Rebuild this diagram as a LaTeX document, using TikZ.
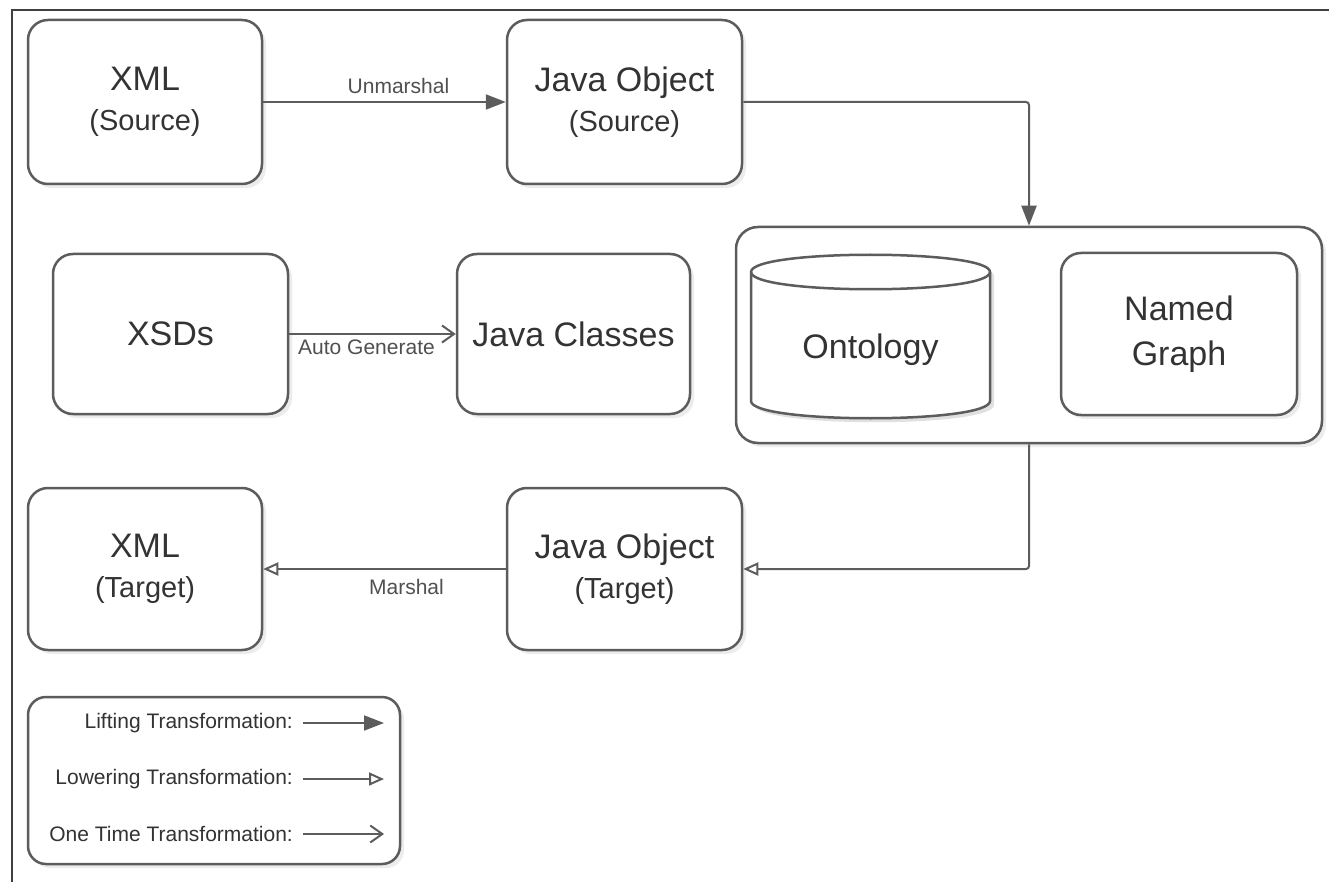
\documentclass[tikz,border=0pt]{standalone}
\usepackage{fontspec}
\setmainfont{Liberation Sans}
\usetikzlibrary{arrows.meta,shadows}
\definecolor{linec}{HTML}{5C5C5C}
\definecolor{txt}{HTML}{333333}
\definecolor{lbltxt}{HTML}{505050}
\newcommand\boxsubtext[1]{{\fontsize{29}{40}\selectfont #1}}
\tikzset{
  box/.style={draw=linec, line width=2.5pt, rounded corners=20pt, fill=white,
    text=txt, align=center, inner sep=0pt,
    font=\fontsize{34}{40}\selectfont,
    drop shadow={opacity=0.15, shadow xshift=4pt, shadow yshift=-4pt}},
  liftarr/.style={draw=linec, line width=2pt, -{Triangle[length=20pt,width=15pt]}},
  lowerarr/.style={draw=linec, line width=2pt, -{Triangle[open,length=15pt,width=13pt,fill=white]}},
  oncearr/.style={draw=linec, line width=2pt, -{Straight Barb[length=12pt,width=17pt]}},
  lbl/.style={text=lbltxt, font=\fontsize{21}{24}\selectfont, inner sep=1pt},
  legtxt/.style={text=txt, font=\fontsize{21}{24}\selectfont, anchor=east, inner sep=0pt},
  frame/.style={draw=black!75, line width=2.5pt}
}
\begin{document}
\begin{tikzpicture}[x=1pt,y=-1pt]
\useasboundingbox (0,0) rectangle (1329,882);
\fill[white] (0,0) rectangle (1329,882);
% frame (only top and left visible)
\coordinate (ftl) at (12,10);
\coordinate (ftr) at (1329,10);
\coordinate (fbl) at (12,882);
\draw[frame] (ftr) -- (ftl) -- (fbl);

% boxes
\node[box, minimum width=234pt, minimum height=164pt] (xmls) at (145,102) {XML\\\boxsubtext{(Source)}};
\node[box, minimum width=235pt, minimum height=164pt] (jos) at (624.5,102) {Java Object\\\boxsubtext{(Source)}};
\node[box, minimum width=235pt, minimum height=160pt] (xsd) at (170.5,334) {XSDs};
\node[box, minimum width=233pt, minimum height=160pt] (jcl) at (573.5,334) {Java Classes};
\node[box, minimum width=586pt, minimum height=216pt, rounded corners=22pt] (cont) at (1029,335) {};
\node[box, minimum width=236pt, minimum height=162pt, font=\fontsize{34}{45}\selectfont] (ng) at (1179,334) {Named\\Graph};
\node[box, minimum width=235pt, minimum height=162pt] (jot) at (624.5,569) {Java Object\\\boxsubtext{(Target)}};
\node[box, minimum width=234pt, minimum height=162pt] (xmlt) at (145,569) {XML\\\boxsubtext{(Target)}};

% cylinder (Ontology)
\fill[black, opacity=0.12] (755,276) -- (755,405) .. controls (755,428) and (994,428) .. (994,405) -- (994,276) .. controls (994,253) and (755,253) .. (755,276) -- cycle;
\draw[draw=linec, line width=2.5pt, fill=white] (751,272) -- (751,401) .. controls (751,424) and (990,424) .. (990,401) -- (990,272) .. controls (990,249) and (751,249) .. (751,272) -- cycle;
\draw[draw=linec, line width=2.5pt] (751,272) .. controls (751,295) and (990,295) .. (990,272);
\node[text=txt, font=\fontsize{34}{40}\selectfont] (ont) at (870.5,350) {Ontology};

% legend
\node[draw=linec, line width=2.5pt, rounded corners=18pt, fill=white, minimum width=372pt, minimum height=167pt, drop shadow={opacity=0.15, shadow xshift=4pt, shadow yshift=-4pt}] (legend) at (214,780.5) {};
\node[legtxt] (t1) at (293,723) {Lifting Transformation:};
\node[legtxt] (t2) at (293,779) {Lowering Transformation:};
\node[legtxt] (t3) at (293,834) {One Time Transformation:};
\coordinate (a1) at (303,723); \coordinate (b1) at (384,723);
\coordinate (a2) at (303,779); \coordinate (b2) at (384,779);
\coordinate (a3) at (303,834); \coordinate (b3) at (384,834);
\draw[liftarr] (a1) -- (b1);
\draw[lowerarr] (a2) -- (b2);
\draw[oncearr] (a3) -- (b3);

% connectors
\draw[liftarr] (xmls.east) -- (jos.west) node[lbl, midway, xshift=14pt, yshift=16pt] {Unmarshal};
\draw[liftarr, rounded corners=3pt] (jos.east) -| (cont.north);
\draw[oncearr] (xsd.east) -- (jcl.west) node[lbl, midway, xshift=-6pt, yshift=-13pt] {Auto Generate};
\draw[lowerarr, rounded corners=3pt] (cont.south) |- (jot.east);
\draw[lowerarr] (jot.west) -- (xmlt.east) node[lbl, midway, xshift=22pt, yshift=-18pt] {Marshal};
\end{tikzpicture}
\end{document}
